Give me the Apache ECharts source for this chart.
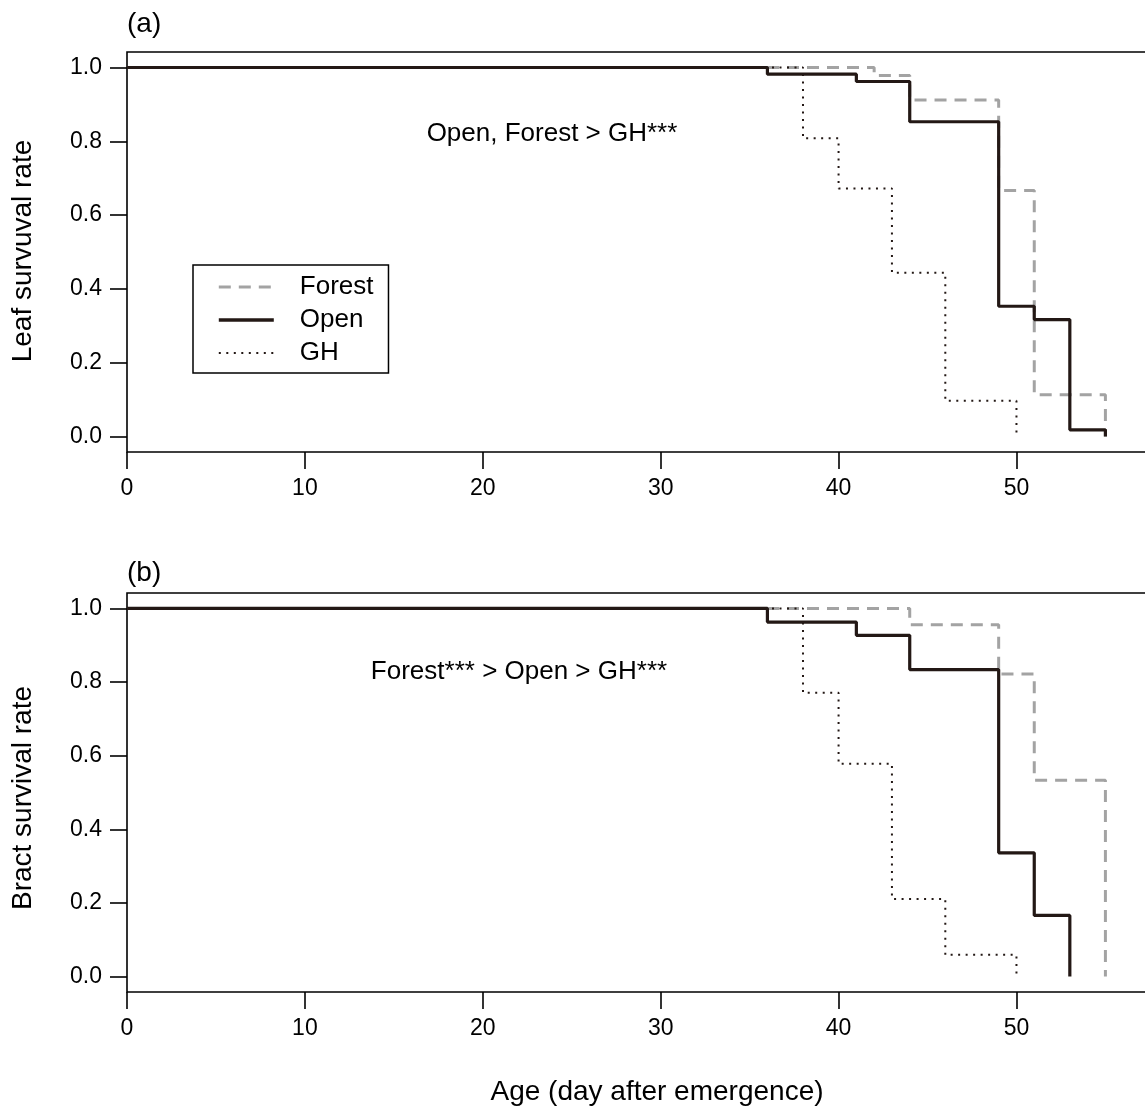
<!DOCTYPE html>
<html>
<head>
<meta charset="utf-8">
<script src="https://cdn.jsdelivr.net/npm/echarts@6/dist/echarts.min.js"></script>
<style>
  html, body { margin: 0; padding: 0; background: #fff; }
  #main { width: 1145px; height: 1115px; }
</style>
</head>
<body>
<div id="main"></div>
<script>
// step points [day, survival]
var leafForest = [[0, 1], [42, 0.978], [44, 0.912], [49, 0.667], [51, 0.113], [55, 0]];
var leafOpen = [[0, 1], [36, 0.982], [41, 0.962], [44, 0.853], [49, 0.353], [51, 0.317], [53, 0.018], [55, 0]];
var leafGH = [[0, 1], [38, 0.808], [40, 0.672], [43, 0.444], [46, 0.097], [50, 0]];

var bractForest = [[0, 1], [44, 0.956], [49, 0.822], [51, 0.533], [55, 0]];
var bractOpen = [[0, 1], [36, 0.963], [41, 0.927], [44, 0.834], [49, 0.336], [51, 0.166], [53, 0]];
var bractGH = [[0, 1], [38, 0.771], [40, 0.578], [43, 0.211], [46, 0.059], [50, 0]];

var xTicks = [0, 10, 20, 30, 40, 50];
var yTicks = [0, 0.2, 0.4, 0.6, 0.8, 1.0];

var FONT = 'Liberation Sans';
var INK = '#231815';

var myChart = echarts.init(document.getElementById('main'));

function xAx(i) {
    return {
        type: 'value', gridIndex: i, min: 0, max: 57.9,
        axisLine: { show: false, onZero: false },
        splitLine: { show: false },
        axisTick: { customValues: xTicks, inside: false, length: 17, lineStyle: { color: '#000', width: 1.6 } },
        axisLabel: { customValues: xTicks, margin: 25, fontSize: 23, fontFamily: FONT, color: '#000' }
    };
}
function yAx(i) {
    return {
        type: 'value', gridIndex: i, min: -0.042, max: 1.042,
        axisLine: { show: false, onZero: false },
        splitLine: { show: false },
        axisTick: { customValues: yTicks, inside: false, length: 17, lineStyle: { color: '#000', width: 1.6 } },
        axisLabel: {
            customValues: yTicks, margin: 25, fontSize: 23, fontFamily: FONT, color: '#000',
            formatter: function (v) { return v.toFixed(1); }
        }
    };
}

function forest(i, data) {
    return { name: 'Forest', type: 'line', step: 'end', symbol: 'none', silent: true,
        xAxisIndex: i, yAxisIndex: i, data: data,
        lineStyle: { color: '#a3a3a3', width: 3, type: [12, 8] }, itemStyle: { color: '#a3a3a3' } };
}
function gh(i, data) {
    return { name: 'GH', type: 'line', step: 'end', symbol: 'none', silent: true,
        xAxisIndex: i, yAxisIndex: i, data: data,
        lineStyle: { color: INK, width: 2, type: [2, 5.5] }, itemStyle: { color: INK } };
}
function open(i, data) {
    return { name: 'Open', type: 'line', step: 'end', symbol: 'none', silent: true,
        xAxisIndex: i, yAxisIndex: i, data: data,
        lineStyle: { color: INK, width: 3.2, type: 'solid' }, itemStyle: { color: INK } };
}

function txt(s, x, y, size, align, rot) {
    return {
        type: 'text', x: x, y: y, rotation: rot || 0, silent: true,
        style: { text: s, fontSize: size, fontFamily: FONT, fill: '#000',
                 align: align, verticalAlign: 'middle' }
    };
}

var option = {
    animation: false,
    backgroundColor: '#fff',
    grid: [
        { left: 127, top: 52, width: 1030, height: 400, outerBoundsMode: 'none',
          show: true, borderColor: '#000', borderWidth: 1.6 },
        { left: 127, top: 593, width: 1030, height: 399, outerBoundsMode: 'none',
          show: true, borderColor: '#000', borderWidth: 1.6 }
    ],
    xAxis: [xAx(0), xAx(1)],
    yAxis: [yAx(0), yAx(1)],
    legend: {
        data: [
            { name: 'Forest', lineStyle: { width: 3.2 } },
            { name: 'Open', lineStyle: { width: 3.6 } },
            { name: 'GH', lineStyle: { width: 2 } }
        ],
        orient: 'vertical', left: 193, top: 265,
        padding: [9, 15, 7, 24],
        itemWidth: 55, itemHeight: 20, itemGap: 7,
        borderColor: '#000', borderWidth: 1.5, borderRadius: 0,
        selectedMode: false,
        itemStyle: { opacity: 0 },
        textStyle: { fontSize: 26, lineHeight: 26, fontFamily: FONT, color: '#000', padding: [0, 0, 0, 21] }
    },
    graphic: [
        txt('(a)', 127, 24, 28, 'left'),
        txt('(b)', 127, 573, 28, 'left'),
        txt('Open, Forest > GH***', 552, 134, 26, 'center'),
        txt('Forest*** > Open > GH***', 519, 672, 26, 'center'),
        txt('Age (day after emergence)', 657, 1092, 28, 'center'),
        txt('Leaf survuval rate', 23, 251, 28, 'center', Math.PI / 2),
        txt('Bract survival rate', 23, 798, 28, 'center', Math.PI / 2)
    ],
    series: [
        forest(0, leafForest), gh(0, leafGH), open(0, leafOpen),
        forest(1, bractForest), gh(1, bractGH), open(1, bractOpen)
    ]
};
myChart.setOption(option);
</script>
</body>
</html>
